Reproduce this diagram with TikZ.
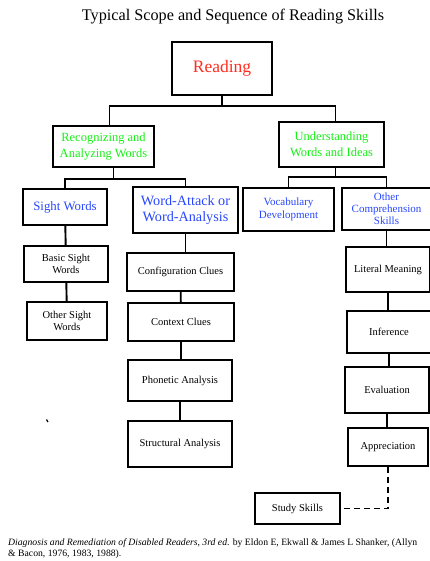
\documentclass[tikz,border=0pt]{standalone}
\usepackage{fontspec}
\setmainfont{Liberation Serif}
\usepackage{tikz}
\definecolor{readred}{RGB}{255,45,30}
\definecolor{headgreen}{RGB}{20,240,20}
\definecolor{headblue}{RGB}{40,70,255}

\begin{document}
\begin{tikzpicture}[x=1pt,y=-1pt,
    box/.style={draw,line width=1.2pt,align=center,inner sep=1pt},
    link/.style={line width=1.9pt},
    minor/.style={font=\fontsize{10.5}{12}\selectfont},
    headblue/.style={text=headblue}]
  \useasboundingbox (0,0) rectangle (429,561);
  \node (title) at (233,17) {\fontsize{16.2}{19}\selectfont Typical Scope and Sequence of Reading Skills};

  % top levels
  \node[box,minimum width=100,minimum height=53,text=readred,font=\fontsize{17.5}{20}\selectfont] (reading) at (222,68.5) {Reading};
  \node[box,minimum width=101,minimum height=41,text=headgreen,font=\fontsize{12.5}{16}\selectfont] (recog) at (103.5,146.5) {Recognizing and\\Analyzing Words};
  \node[box,minimum width=105,minimum height=45,text=headgreen,font=\fontsize{12.5}{16}\selectfont] (under) at (331.5,144.5) {Understanding\\Words and Ideas};
  \draw[link] (reading.south) -- ++(0,10) -| ([xshift=6]recog.north);
  \draw[link] (reading.south) -- ++(0,10) -| ([xshift=4]under.north);

  % word recognition
  \node[box,headblue,minimum width=84,minimum height=36,font=\fontsize{12.8}{15}\selectfont] (sight) at (65,207) {Sight Words};
  \node[box,headblue,minimum width=105,minimum height=46,font=\fontsize{14.2}{16}\selectfont] (attack) at (185.5,210) {Word-Attack or\\Word-Analysis};
  \draw[link] ([xshift=10]recog.south) -- ++(0,11) -| (sight.north);
  \draw[link] ([xshift=10]recog.south) -- ++(0,11) -| (attack.north);
  \node[box,minor,minimum width=84,minimum height=36] (basic) at (66,264) {Basic Sight\\Words};
  \node[box,minor,minimum width=80,minimum height=38] (othersight) at (67,321) {Other Sight\\Words};
  \draw[link] (sight) -- (basic);
  \draw[link] (basic) -- (othersight);
  \node[box,minor,minimum width=107,minimum height=38] (config) at (180.5,272) {Configuration Clues};
  \node[box,minor,minimum width=106,minimum height=38] (context) at (181,322) {Context Clues};
  \node[box,minor,minimum width=104,minimum height=41] (phonetic) at (180,380.5) {Phonetic Analysis};
  \node[box,minor,minimum width=104,minimum height=46] (struct) at (180,444) {Structural Analysis};
  \draw[link] (attack) -- (attack |- config.north);
  \draw[link] (config) -- (context);
  \draw[link] (context) -- (context |- phonetic.north);
  \draw[link] (phonetic) -- (phonetic |- struct.north);

  % comprehension
  \node[box,headblue,minimum width=91,minimum height=43,font=\fontsize{11}{13}\selectfont] (vocab) at (288.5,209.5) {Vocabulary\\Development};
  \node[box,headblue,minimum width=89,minimum height=42,font=\fontsize{11}{12}\selectfont] (othercomp) at (386.5,209) {Other\\Comprehension\\Skills};
  \draw[link] ([xshift=4]under.south) -- ++(0,9) -| (vocab.north);
  \draw[link] ([xshift=4]under.south) -- ++(0,9) -| (othercomp.north);
  \node[box,minor,minimum width=84,minimum height=45] (literal) at (388,269.5) {Literal Meaning};
  \node[box,minor,minimum width=84,minimum height=42] (inference) at (389,332) {Inference};
  \node[box,minor,minimum width=84,minimum height=46] (evaluation) at (387,390) {Evaluation};
  \node[box,minor,minimum width=80,minimum height=38] (appreciation) at (388,447) {Appreciation};
  \node[box,minor,minimum width=85,minimum height=31] (study) at (297.5,508.5) {Study Skills};
  \draw[link] (othercomp) -- (othercomp |- literal.north);
  \draw[link] (literal) -- (literal |- inference.north);
  \draw[link] (inference) -- (inference |- evaluation.north);
  \draw[link] (evaluation) -- (evaluation |- appreciation.north);
  \draw[link,dash pattern=on 6pt off 4pt] (appreciation.south) |- (study.east);

  \draw[line width=1.2pt] (46.5,419.5) -- (48,422);

  \node[anchor=north west,align=left,inner sep=0pt,font=\fontsize{9.7}{11}\selectfont] (source) at (8,538)
    {\textit{Diagnosis and Remediation of Disabled Readers, 3rd ed}. by Eldon E, Ekwall \& James L Shanker, (Allyn\\
     \& Bacon, 1976, 1983, 1988).};
\end{tikzpicture}
\end{document}
